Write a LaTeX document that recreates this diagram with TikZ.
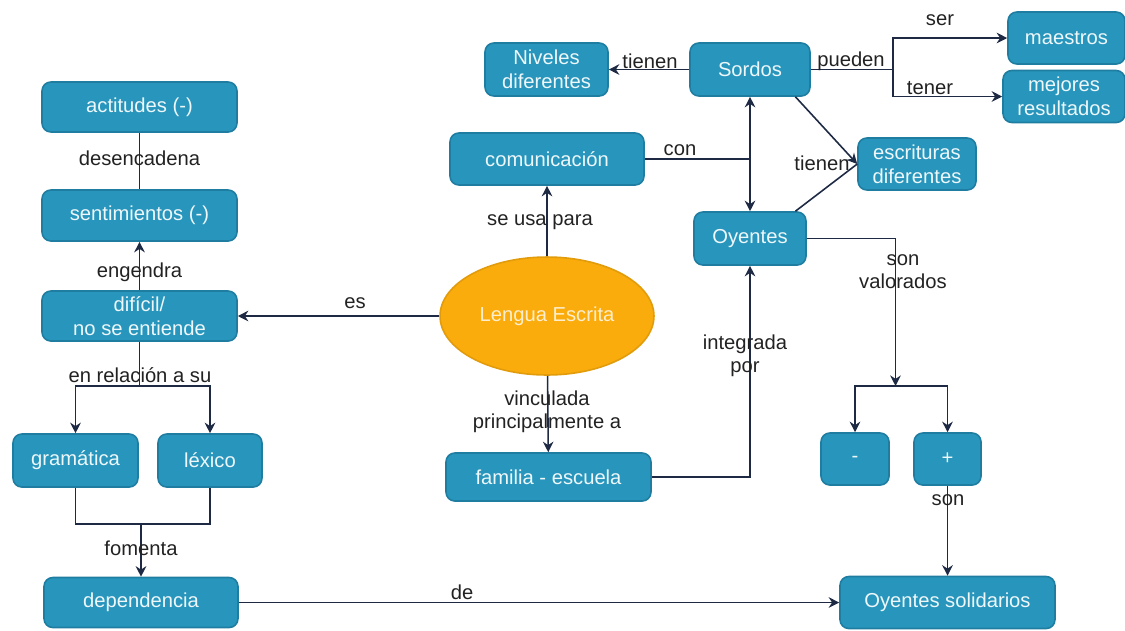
\documentclass[tikz,border=0pt]{standalone}
\usepackage{fontspec}
\setmainfont{Liberation Sans}
\usepackage{tikz}
\usetikzlibrary{arrows.meta}
\usetikzlibrary{shapes.geometric}

\definecolor{boxfill}{RGB}{40,150,188}
\definecolor{boxline}{RGB}{30,125,160}
\definecolor{lengua}{RGB}{250,172,12}
\definecolor{linea}{RGB}{30,42,68}
\definecolor{etiq}{RGB}{34,34,34}

\tikzset{
    concepto/.style={draw=boxline, fill=boxfill, rounded corners=5pt, text=white!92!boxfill,
        align=center, inner sep=2pt, font=\fontsize{11.5}{13.5}\selectfont},
    enlace/.style={text=etiq, align=center, inner sep=1pt, font=\fontsize{11.5}{13}\selectfont},
    flecha/.style={-{Stealth[length=6pt,width=6pt]}},
}

\begin{document}
\begin{tikzpicture}[x=0.02cm, y=-0.02cm, line width=0.9pt, draw=linea]
                \useasboundingbox (0,0) rectangle (1125,630);
                \node[concepto, minimum width=3.9cm, minimum height=1cm] (act) at (139.5,107) {actitudes (-)};
                \node[concepto, minimum width=3.9cm, minimum height=1.02cm] (sent) at (139.5,215.5) {sentimientos (-)};
                \node[concepto, minimum width=3.9cm, minimum height=1cm] (dif) at (139.5,316) {difícil/\\no se entiende};
                \node[concepto, minimum width=2.5cm, minimum height=1.06cm] (gram) at (75.5,460.5) {gramática};
                \node[concepto, minimum width=2.08cm, minimum height=1.06cm] (lex) at (210,460.5) {léxico};
                \node[concepto, minimum width=3.88cm, minimum height=1cm] (dep) at (141,602.5) {dependencia};
                \node[concepto, minimum width=3.88cm, minimum height=1.04cm] (com) at (547,159) {comunicación};
                \node[concepto, minimum width=2.46cm, minimum height=1.06cm] (niv) at (546.5,69.5) {Niveles\\diferentes};
                \node[concepto, minimum width=2.4cm, minimum height=1.06cm] (sor) at (750,69.5) {Sordos};
                \node[concepto, minimum width=2.34cm, minimum height=1.04cm] (mae) at (1066.5,38) {maestros};
                \node[concepto, minimum width=2.44cm, minimum height=1.04cm] (mej) at (1064,96.5) {mejores\\resultados};
                \node[concepto, minimum width=2.36cm, minimum height=1.04cm] (esc) at (917,164) {escrituras\\diferentes};
                \node[concepto, minimum width=2.24cm, minimum height=1.06cm] (oye) at (750,238.5) {Oyentes};
                \node[ellipse, fill=lengua, draw=lengua!90!black, text=white!80!lengua, minimum width=4.28cm,
                    minimum height=2.36cm, font=\fontsize{11.5}{13.5}\selectfont] (len) at (547,316) {Lengua Escrita};
                \node[concepto, minimum width=4.1cm, minimum height=0.96cm] (fam) at (548.5,477) {familia - escuela};
                \node[concepto, minimum width=1.36cm, minimum height=1.04cm] (neg) at (855,459) {-};
                \node[concepto, minimum width=1.34cm, minimum height=1.04cm] (pos) at (947.5,459) {+};
                \node[concepto, minimum width=4.3cm, minimum height=1.04cm] (sol) at (947.5,602.5) {Oyentes solidarios};

                \coordinate (split) at (139.5,386);
                \coordinate (merge) at (141,524);
                \coordinate (conj) at (750,159);
                \coordinate (pj) at (893,69.5);
                \coordinate (vsplit) at (895.5,386);

                \draw (act) -- (sent);
                \draw[flecha] (dif) -- (sent);
                \draw[flecha] (len) -- (dif);
                \draw (dif) -- (split);
                \draw[flecha] (split) -| (gram);
                \draw[flecha] (split) -| (lex);
                \draw (gram) |- (merge);
                \draw (lex) |- (merge);
                \draw[flecha] (merge) -- (merge |- dep.north);
                \draw[flecha] (dep) -- (sol);
                \draw[flecha] (len) -- (com);
                \draw[flecha] (len) -- (fam);
                \draw[flecha] (fam) -| (oye);
                \draw (com) -- (conj);
                \draw[{Stealth[length=6pt,width=6pt]}-{Stealth[length=6pt,width=6pt]}] (sor) -- (oye);
                \draw[flecha] (sor) -- (niv);
                \draw (sor) -- (pj);
                \draw[flecha] (pj) |- (mae);
                \draw[flecha] (pj) |- (mej);
                \draw[flecha] (sor.-31) -- (esc.west);
                \draw (oye.31) -- (esc.west);
                \draw[flecha] (oye) -| (vsplit);
                \draw[flecha] (vsplit) -| (neg);
                \draw[flecha] (vsplit) -| (pos);
                \draw[flecha] (pos) -- (sol);

                \node[enlace] (l1) at (139.5,158) {desencadena};
                \node[enlace] (l2) at (139.5,272) {engendra};
                \node[enlace] (l3) at (355,303) {es};
                \node[enlace] (l4) at (140,375) {en relación a su};
                \node[enlace] (l5) at (141,548) {fomenta};
                \node[enlace] (l6) at (462,592) {de};
                \node[enlace] (l7) at (540,222) {se usa para};
                \node[enlace] (l8) at (547,412) {vinculada\\principalmente a};
                \node[enlace] (l9) at (745,356) {integrada\\por};
                \node[enlace] (l10) at (680,150) {con};
                \node[enlace] (l11) at (650,61) {tienen};
                \node[enlace] (l12) at (851,61) {pueden};
                \node[enlace] (l13) at (940,20) {ser};
                \node[enlace] (l14) at (930,88) {tener};
                \node[enlace] (l15) at (822,163) {tienen};
                \node[enlace] (l16) at (903,272) {son\\valorados};
                \node[enlace] (l17) at (948,500) {son};
            \end{tikzpicture}
\end{document}
